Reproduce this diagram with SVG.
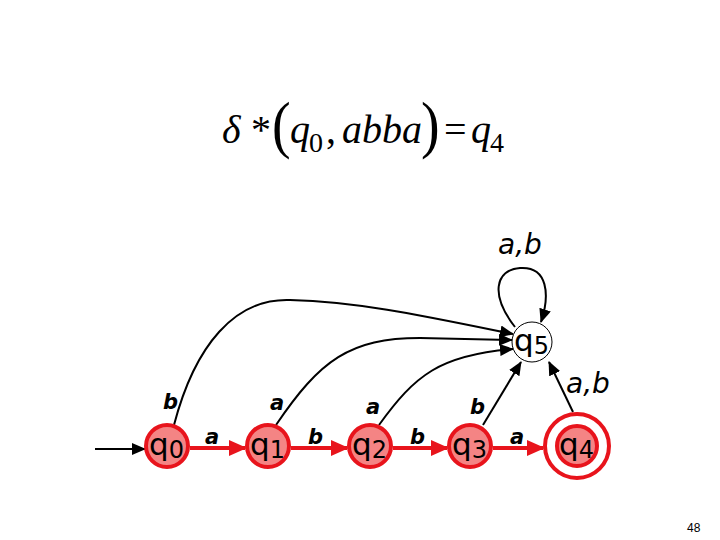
<svg xmlns="http://www.w3.org/2000/svg" width="720" height="540" viewBox="0 0 720 540">
<style>
.st{fill:#f48484;stroke:#e8141c;stroke-width:4}
.ring{fill:none;stroke:#e8141c;stroke-width:4}
.lbl{font-family:"DejaVu Sans",sans-serif;font-style:italic;font-size:28px;fill:#000}
.nl{font-family:"DejaVu Sans",sans-serif;font-size:31px;fill:#000}
.el{font-family:"DejaVu Sans",sans-serif;font-style:italic;font-weight:bold;font-size:21px;fill:#000}
.ed{fill:none;stroke:#000;stroke-width:2}
.red{fill:none;stroke:#e8141c;stroke-width:4}
.m{font-family:"Liberation Serif",serif;fill:#000}
</style>
<defs>
<marker id="ab" markerWidth="14" markerHeight="12" refX="13" refY="6" orient="auto" markerUnits="userSpaceOnUse" viewBox="0 0 14 12"><path d="M0,0 L14,6 L0,12 z" fill="#000"/></marker>
<marker id="ar" markerWidth="18" markerHeight="16" refX="16" refY="8" orient="auto" markerUnits="userSpaceOnUse" viewBox="0 0 18 16"><path d="M0,0 L18,8 L0,16 z" fill="#e8141c"/></marker>
</defs>
<rect width="720" height="540" fill="#fff"/>
<g id="formula" class="m">
<text x="222" y="143" font-size="40" font-style="italic">δ</text>
<text x="251" y="143" font-size="40">*</text>
<text x="272" y="146" font-size="56" transform="translate(272,146) scale(1,1.15) translate(-272,-146)">(</text>
<text x="290" y="143" font-size="40" font-style="italic">q</text>
<text x="309" y="152" font-size="28">0</text>
<text x="326" y="143" font-size="40">,</text>
<text x="342" y="143" font-size="40" font-style="italic">abba</text>
<text x="421" y="146" font-size="56" transform="translate(421,146) scale(1,1.15) translate(-421,-146)">)</text>
<text x="444" y="143" font-size="40">=</text>
<text x="471" y="143" font-size="40" font-style="italic">q</text>
<text x="490" y="152" font-size="28">4</text>
</g>
<g id="connectors">
<line class="ed" x1="95" y1="449" x2="145" y2="449" marker-end="url(#ab)"/>
<line class="red" x1="190" y1="448" x2="245" y2="448" marker-end="url(#ar)"/>
<line class="red" x1="291" y1="448" x2="347" y2="448" marker-end="url(#ar)"/>
<line class="red" x1="393" y1="448" x2="447" y2="448" marker-end="url(#ar)"/>
<line class="red" x1="493" y1="448" x2="543" y2="448" marker-end="url(#ar)"/>
<path class="ed" d="M174,425 C195,345 235,298 290,300 C360,302 420,315 513,334" marker-end="url(#ab)"/>
<path class="ed" d="M276,425 C320,360 350,338 420,338 L512,340" marker-end="url(#ab)"/>
<path class="ed" d="M379,425 C415,375 440,355 513,349" marker-end="url(#ab)"/>
<line class="ed" x1="483" y1="425" x2="521" y2="362" marker-end="url(#ab)"/>
<line class="ed" x1="573" y1="412" x2="549" y2="362" marker-end="url(#ab)"/>
<path class="ed" d="M515,327 C490,295 495,270 520,268 C548,266 550,295 541,322" marker-end="url(#ab)"/>
<text class="el" x="163" y="409">b</text>
<text class="el" x="270" y="410">a</text>
<text class="el" x="366" y="414">a</text>
<text class="el" x="470" y="414">b</text>
<text class="el" x="205" y="444">a</text>
<text class="el" x="308" y="444">b</text>
<text class="el" x="410" y="444">b</text>
<text class="el" x="510" y="444">a</text>
<text class="lbl" x="498" y="254">a,b</text>
<text class="lbl" x="566" y="393">a,b</text>
</g>
<g id="q0"><circle class="st" cx="167" cy="446" r="21"/><text class="nl" x="149" y="455">q<tspan font-size="24" dy="3">0</tspan></text></g>
<g id="q1"><circle class="st" cx="268" cy="446" r="21"/><text class="nl" x="250" y="455">q<tspan font-size="24" dy="3">1</tspan></text></g>
<g id="q2"><circle class="st" cx="370" cy="446" r="21"/><text class="nl" x="352" y="455">q<tspan font-size="24" dy="3">2</tspan></text></g>
<g id="q3"><circle class="st" cx="470" cy="446" r="21"/><text class="nl" x="452" y="455">q<tspan font-size="24" dy="3">3</tspan></text></g>
<g id="q4"><circle class="ring" cx="577" cy="446" r="32"/><circle class="st" cx="577" cy="446" r="20"/><text class="nl" x="559" y="455">q<tspan font-size="24" dy="3">4</tspan></text></g>
<g id="q5"><circle cx="532" cy="342" r="20" fill="#fff" stroke="#000" stroke-width="1"/><text class="nl" x="514" y="351">q<tspan font-size="24" dy="3">5</tspan></text></g>
<text x="687" y="532" font-family="Liberation Sans,sans-serif" font-size="12" fill="#000">48</text>
</svg>
